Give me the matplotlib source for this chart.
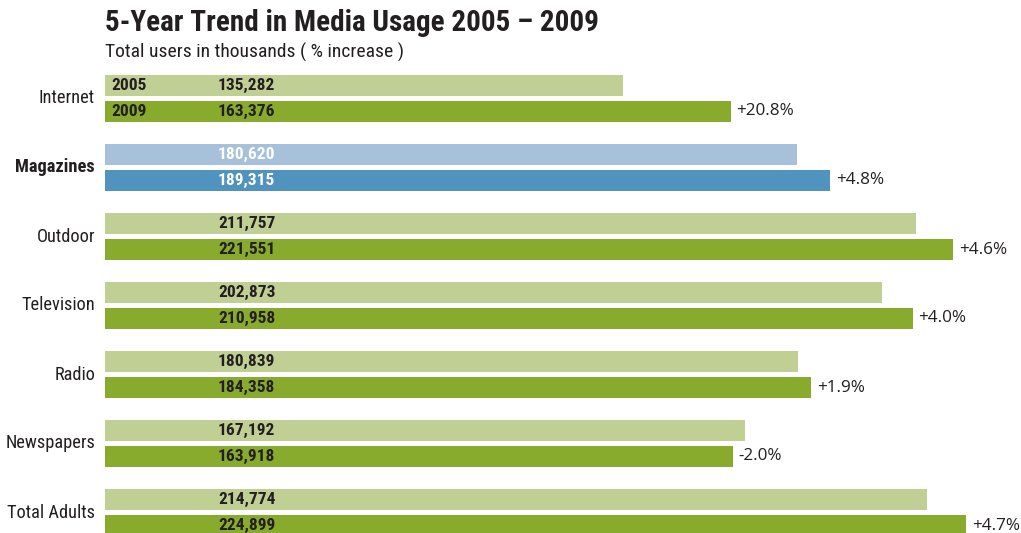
import matplotlib.pyplot as plt
import numpy as np

cats = ['Internet', 'Magazines', 'Outdoor', 'Television', 'Radio', 'Newspapers', 'Total Adults']
users_2005 = [135282, 180620, 211757, 202873, 180839, 167192, 214774]
users_2009 = [163376, 189315, 221551, 210958, 184358, 163918, 224899]
pct = ['+20.8%', '+4.8%', '+4.6%', '+4.0%', '+1.9%', '-2.0%', '+4.7%']
highlight = 'Magazines'

cond = ['Roboto Condensed', 'Roboto', 'DejaVu Sans']

fig = plt.figure(figsize=(10.21, 5.33), dpi=100)
ax = fig.add_axes([105/1021, 0, 1 - 105/1021, 1])

y = np.arange(len(cats))
off = 13/69
h = 21/69
c05 = ['#a7c1da' if c == highlight else '#c0d094' for c in cats]
c09 = ['#4f93be' if c == highlight else '#88ab2e' for c in cats]
ax.barh(y - off, users_2005, height=h, color=c05)
ax.barh(y + off, users_2009, height=h, color=c09)

ax.set_xlim(0, 239200)
ax.set_ylim((533 - 98.5)/69, -98.5/69)
ax.axis('off')

for i, c in enumerate(cats):
    tc = 'white' if c == highlight else '#231f20'
    ax.text(-2600, i, c, ha='right', va='center', fontsize=13.2, family=cond,
            fontweight='bold' if c == highlight else 'normal', color='#231f20')
    ax.text(29500, i - off, f'{users_2005[i]:,}', ha='left', va='center', fontsize=12.5,
            family=cond, fontweight='bold', color=tc)
    ax.text(29500, i + off, f'{users_2009[i]:,}', ha='left', va='center', fontsize=12.5,
            family=cond, fontweight='bold', color=tc)
    ax.text(users_2009[i] + 1500, i + off, pct[i], ha='left', va='center', fontsize=12.3,
            family=['Open Sans', 'DejaVu Sans'], color='#231f20')

ax.text(1600, -off, '2005', ha='left', va='center', fontsize=12.5, family=cond, fontweight='bold', color='#231f20')
ax.text(1600, off, '2009', ha='left', va='center', fontsize=12.5, family=cond, fontweight='bold', color='#231f20')

fig.text(105/1021, 1 - 23/533, '5-Year Trend in Media Usage 2005 \u2013 2009', ha='left', va='center',
         fontsize=21, family=cond, fontweight='bold', color='#231f20')
fig.text(105/1021, 1 - 52/533, 'Total users in thousands ( % increase )', ha='left', va='center',
         fontsize=14, family=cond, color='#231f20')

fig.savefig('out.png', dpi=100)
